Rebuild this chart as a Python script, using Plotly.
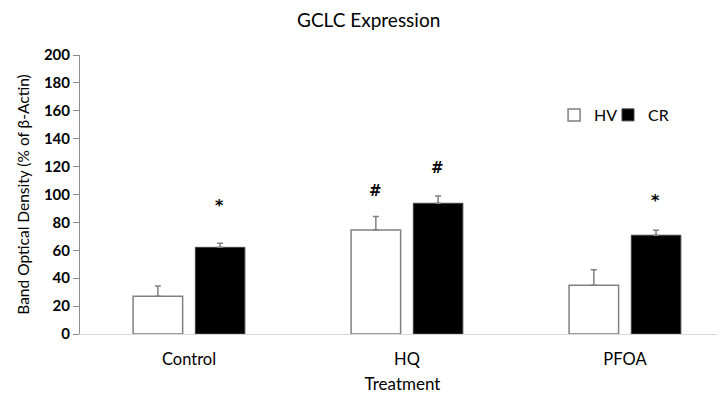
import plotly.graph_objects as go

categories = ["Control", "HQ", "PFOA"]
hv_values = [27.0, 74.5, 34.9]
hv_errors = [7.4, 9.8, 11.2]
cr_values = [62.1, 93.7, 70.8]
cr_errors = [2.9, 5.2, 3.6]
marks = ["*", "#", "#", "*"]
mark_categories = ["Control", "HQ", "HQ", "PFOA"]
mark_series = ["CR", "HV", "CR", "CR"]
mark_y = [92.0, 102.7, 119.0, 96.0]

FONT = "Lato"

fig = go.Figure()
fig.add_trace(go.Bar(
    name="HV", x=categories, y=hv_values, legend="legend", showlegend=True,
    marker=dict(color="white", line=dict(color="#808080", width=1.5)),
    error_y=dict(type="data", array=hv_errors, symmetric=False,
                 arrayminus=[0]*3, color="#808080", thickness=1.5, width=3),
))
fig.add_trace(go.Bar(
    name="CR", x=categories, y=cr_values, legend="legend2", showlegend=True,
    marker=dict(color="black", line=dict(color="#404040", width=1)),
    error_y=dict(type="data", array=cr_errors, symmetric=False,
                 arrayminus=[0]*3, color="#808080", thickness=1.5, width=3),
))

for m, c, s, yv in zip(marks, mark_categories, mark_series, mark_y):
    fig.add_annotation(x=c, y=yv, xref="x", yref="y", text=m, showarrow=False,
                       xshift=-31 if s == "HV" else 31,
                       font=dict(family="DejaVu Sans", size=16 if m == "*" else 15,
                                 color="black", weight="bold"))

legend_common = dict(orientation="h", y=0.785, xanchor="left", yanchor="middle",
                     font=dict(family=FONT, size=16, color="black"),
                     itemwidth=30, bgcolor="rgba(0,0,0,0)", visible=True)

fig.update_layout(
    width=717, height=388,
    margin=dict(l=72, r=0, t=47, b=62),
    paper_bgcolor="white", plot_bgcolor="white",
    showlegend=True,
    barmode="group", bargap=0.429, bargroupgap=0.204,
    title=dict(text="GCLC Expression", x=0.503, xanchor="center", y=0.969, yanchor="middle",
               xref="container", yref="container",
               font=dict(family=FONT, size=19, color="black")),
    legend=dict(x=0.735, **legend_common),
    legend2=dict(x=0.8186, **legend_common),
    xaxis=dict(type="category", range=[-0.5, 2.459], showline=True, linecolor="#d9d9d9",
               linewidth=1, ticks="", showgrid=False, automargin=False,
               ticklabelstandoff=10,
               tickfont=dict(family=FONT, size=16.5, color="black"),
               title=dict(text="Treatment", font=dict(family=FONT, size=17, color="black"),
                          standoff=10)),
    yaxis=dict(range=[0, 200], dtick=20, showline=True, linecolor="#8c8c8c", linewidth=1,
               ticks="outside", ticklen=6, tickcolor="#8c8c8c", showgrid=False, zeroline=False,
               automargin=False,
               tickfont=dict(family=FONT, size=15, color="black", weight="bold"),
               title=dict(text="Band Optical Density (% of β-Actin)",
                          font=dict(family=FONT, size=15.5, color="black"), standoff=10)),
)

fig.write_html("out.html")
